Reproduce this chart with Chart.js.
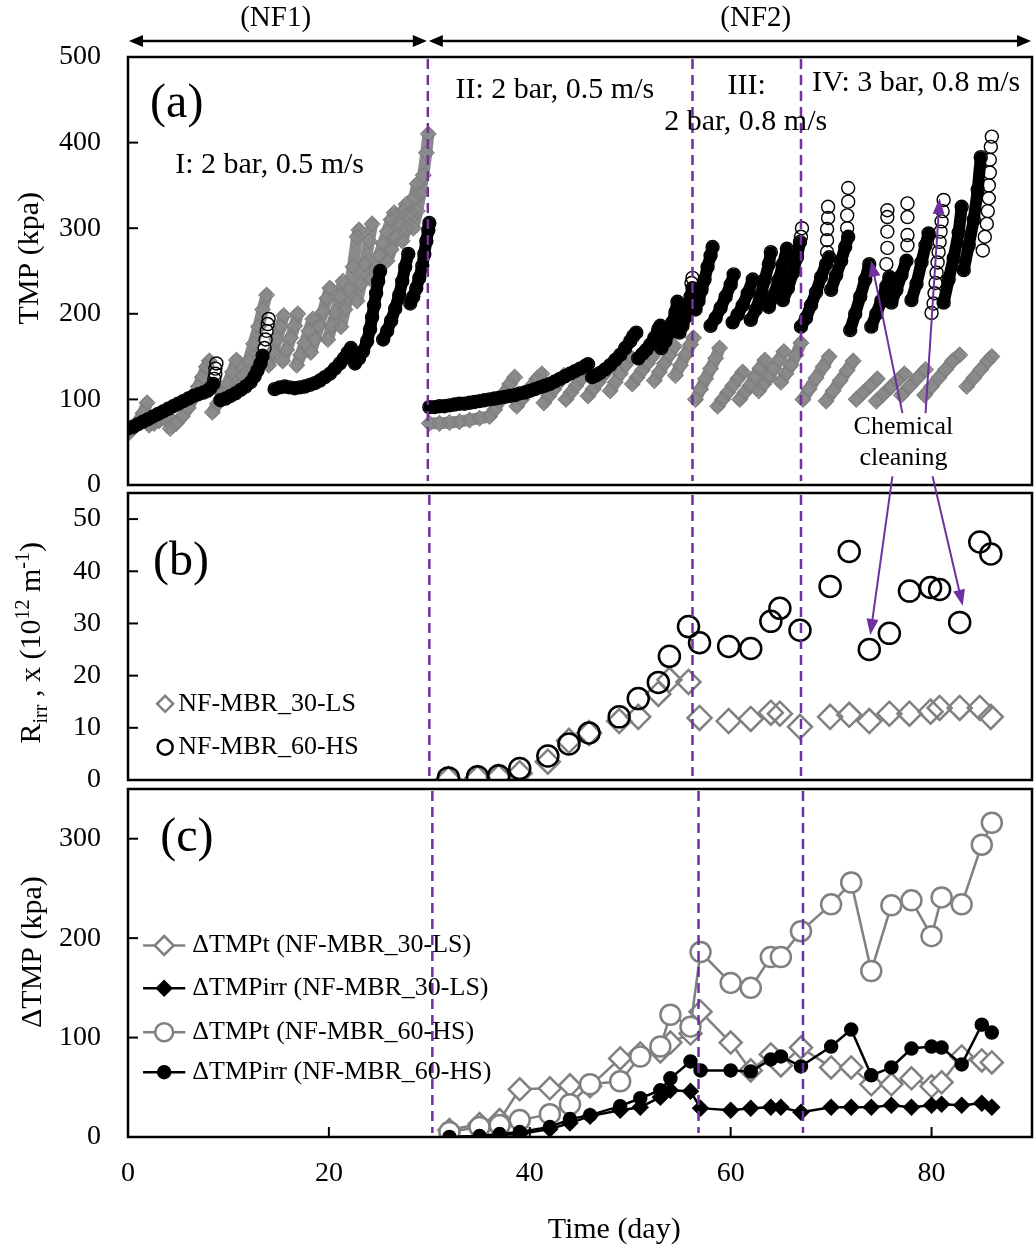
<!DOCTYPE html>
<html>
<head>
<meta charset="utf-8">
<script src="https://cdn.jsdelivr.net/npm/chart.js@4.4.1/dist/chart.umd.min.js"></script>
<style>
  body { margin: 0; background: #fff; }
  .page { position: relative; width: 1036px; height: 1249px; }
  .page canvas { position: absolute; left: 0; top: 0; }
</style>
</head>
<body>
<div class="page">
  <canvas id="panelA" width="1036" height="1249"></canvas>
  <canvas id="panelB" width="1036" height="1249"></canvas>
  <canvas id="panelC" width="1036" height="1249"></canvas>
</div>
<script>
// ---- data: (a) TMP as [day, kPa] ----
// dense runs of the HS membrane (they merge into a solid band)
const tmpHS_I = [[0,66],[0.5,68],[1,71],[1.5,74],[2,77],[2.5,80],[3,83],[3.5,86],[4,89],[4.5,92],[5,95],[5.5,98],[6,101],[6.5,104],[7,106],[7.5,108],[7.9,110],[8.2,113],[8.5,118],
  [9.2,99],[9.7,101],[10.2,104],[10.7,107],[11.2,111],[11.7,115],[12.2,120],[12.6,127],[12.9,134],[13.2,142],[13.4,151],
  [14.6,112],[15.1,114],[15.6,115],[16.1,114],[16.6,113],[17.1,114],[17.6,115],[18.1,117],[18.6,119],[19.1,122],[19.6,126],[20.1,130],[20.6,136],[21.1,142],[21.5,148],[21.9,155],[22.2,160],
  [22.6,142],[23,148],[23.4,156],[23.8,168],[24.1,182],[24.3,196],[24.5,210],[24.7,224],[24.9,238],[25.1,250],
  [25.4,170],[25.8,180],[26.2,192],[26.6,206],[27,222],[27.3,238],[27.6,255],[27.9,270],
  [28.1,212],[28.4,220],[28.7,230],[29,242],[29.3,256],[29.5,270],[29.7,285],[29.9,298],[30,306]];

const tmpHS_II = [[30,91],[30.5,91],[31,92],[31.5,92],[32,93],[32.5,94],[33,95],[33.5,95],[34,96],[34.5,97],[35,98],[35.5,99],[36,100],[36.5,101],[37,102],[37.5,103],[38,104],[38.5,105],[39,107],[39.5,108],[40,110],[40.5,112],[41,114],[41.5,116],[42,118],[42.5,121],[43,124],[43.5,127],[44,130],[44.5,133],[45,136],[45.5,139],[45.8,141],
  [46.2,126],[46.6,128],[47,131],[47.5,135],[48,140],[48.5,146],[49,152],[49.5,160],[50,168],[50.3,174],[50.6,178],
  [50.8,148],[51.2,153],[51.6,158],[52,164],[52.4,172],[52.8,182],[53,186],
  [53.1,160],[53.5,168],[53.9,178],[54.2,190],[54.5,202],[54.7,214],
  [54.9,178],[55.2,186],[55.5,196],[55.8,208],[56,220],[56.2,230]];

const tmpHS_III = [[56.5,205],[56.8,215],[57.1,228],[57.4,240],[57.7,255],[58,268],[58.2,278],
  [58,186],[58.5,195],[59,207],[59.5,220],[60,234],[60.3,246],
  [60.2,190],[60.7,199],[61.2,210],[61.7,224],[62.2,240],
  [62,193],[62.5,205],[63,222],[63.4,240],[63.8,258],[64,272],
  [63.8,208],[64.3,222],[64.8,240],[65.2,258],[65.6,276],
  [65.2,216],[65.7,230],[66.2,248],[66.6,266],[66.9,284]];

const tmpHS_IV = [[67,185],[67.5,195],[68,210],[68.5,225],[69,243],[69.5,258],[69.8,266],
  [70,228],[70.5,245],[71,262],[71.4,278],[71.7,290],
  [71.9,181],[72.4,200],[72.9,220],[73.4,240],[73.8,258],
  [74,185],[74.5,200],[75,215],[75.5,232],[75.8,243],
  [76,213],[76.5,228],[77,245],[77.5,262],
  [78,216],[78.5,235],[79,260],[79.4,280],[79.7,294],
  [81.2,213],[81.7,240],[82.2,265],[82.7,295],[83,325],
  [83.2,251],[83.7,280],[84.2,310],[84.6,345],[84.9,383]];

// sparser stacks of open HS circles at the top of some cycles
const tmpHS_rings = [[8.6,124],[8.7,130],[8.7,136],[8.8,142],
  [13.6,160],[13.7,170],[13.8,180],[13.9,188],[14,194],
  [56.1,236],[56.2,242],
  [67,290],[67.1,300],
  [69.6,272],[69.6,286],[69.6,299],[69.7,312],[69.7,325],
  [71.6,300],[71.6,315],[71.7,331],[71.7,347],
  [75.5,258],[75.6,277],[75.6,296],[75.6,313],[75.6,321],
  [77.6,280],[77.6,292],[77.6,313],[77.6,329],
  [80,201],[80.2,212],[80.3,224],[80.4,236],[80.5,248],[80.6,260],[80.7,272],[80.8,284],[80.9,296],[81,308],[81.1,320],[81.2,333],
  [85.1,274],[85.3,290],[85.5,305],[85.6,320],[85.7,335],[85.7,350],[85.8,365],[85.8,380],[85.9,395],[86,407]];

const tmpLS_I = [[0,60],[0.5,66],[1,74],[1.5,84],[1.9,96],
  [2.1,70],[2.6,72],[3.1,75],[3.6,78],[4,80],
  [4.2,66],[4.8,72],[5.4,80],[6,90],[6.5,102],[7,115],[7.4,126],[7.8,138],[8.1,145],
  [8.4,85],[8.9,95],[9.4,106],[9.9,118],[10.4,132],[10.8,146],
  [11,115],[11.5,128],[12,145],[12.5,165],[13,185],[13.4,205],[13.8,222],
  [14,140],[14.4,155],[14.8,170],[15.2,185],[15.5,198],
  [15.4,145],[15.8,158],[16.2,172],[16.6,186],[16.9,200],
  [16.8,140],[17.2,152],[17.6,166],[18,180],[18.4,194],
  [18.2,155],[18.6,170],[19,186],[19.4,202],[19.8,218],[20.1,230],
  [19.9,170],[20.3,186],[20.7,202],[21.1,220],[21.4,238],
  [21.2,185],[21.6,205],[22,228],[22.4,255],[22.8,290],[23,298],
  [22.8,215],[23.2,235],[23.6,258],[24,285],[24.3,305],
  [24.2,240],[24.6,255],[25,268],[25.4,282],[25.8,296],[26.2,310],[26.5,318],
  [25.8,262],[26.2,275],[26.6,290],[27,305],[27.4,320],[27.7,328],
  [27.3,285],[27.7,300],[28.1,318],[28.5,336],[28.8,352],
  [28.4,300],[28.8,320],[29.1,340],[29.4,362],[29.7,388],[29.9,410]];

const tmpLS_II = [[30,72],[31,72],[32,73],[33,74],[34,76],[35,78],[36,80],[36.5,88],[37,98],[37.5,108],[38,118],[38.5,126],
  [38.7,92],[39.2,100],[39.7,108],[40.2,116],[40.7,124],[41.2,130],
  [41.4,96],[41.9,104],[42.4,112],[42.9,120],[43.4,128],
  [43.6,100],[44.1,108],[44.6,116],[45.1,124],[45.6,132],
  [45.8,104],[46.3,112],[46.8,120],[47.3,128],[47.8,136],
  [48,110],[48.5,120],[49,130],[49.5,140],[50,150],
  [50.2,118],[50.7,126],[51.2,134],[51.7,142],[52.2,150],
  [52.4,122],[52.9,132],[53.4,142],[53.9,152],[54.4,162],
  [54.5,128],[55,140],[55.5,152],[56,164],[56.3,172]];

const tmpLS_III = [[56.5,100],[57,112],[57.5,124],[58,136],[58.5,148],[58.9,160],
  [58.7,92],[59.2,100],[59.7,108],[60.2,116],[60.7,124],[61.2,132],
  [60.9,100],[61.4,108],[61.9,116],[62.4,126],[62.9,136],[63.4,146],
  [62.8,110],[63.3,118],[63.8,126],[64.3,136],[64.8,146],[65.3,156],
  [65,120],[65.5,130],[66,140],[66.5,152],[67,166]];

const tmpLS_IV = [[67.2,100],[67.8,112],[68.5,125],[69.2,138],[69.8,150],
  [69.5,98],[70.2,110],[70.9,122],[71.6,134],[72.2,145],
  [72.5,100],[73.2,108],[73.9,116],[74.6,124],
  [74.5,98],[75.2,106],[75.9,114],[76.6,122],[77.3,130],
  [77,105],[77.8,115],[78.6,125],[79.4,135],
  [79.3,105],[80,115],[80.7,125],[81.4,135],[82.1,145],[82.8,152],
  [83.5,115],[84.2,125],[84.9,135],[85.6,145],[86,150]];

// ---- data: (b) Rirr ----
const dayB = [31.9, 34.8, 36.9, 39, 41.8, 43.9, 45.9, 48.9, 50.8, 52.8, 53.9, 55.8, 56.9, 59.8, 62, 64, 64.9, 66.9, 69.9, 71.8, 73.8, 75.8, 77.8, 79.9, 80.8, 82.8, 84.8, 85.9];
const rirrLS = [0.2, 0.4, 0.6, 1.3, 3.5, 7.5, 9.0, 11.3, 12.1, 16.5, 19.2, 18.8, 11.9, 11.3, 11.7, 12.9, 12.7, 10.2, 12.1, 12.5, 11.3, 12.7, 12.7, 13.1, 13.8, 13.8, 13.8, 12.1];
const rirrHS = [0.4, 0.6, 0.8, 2.2, 4.6, 6.9, 9.0, 12.1, 15.6, 18.7, 23.7, 29.4, 26.3, 25.6, 25.2, 30.4, 32.9, 28.7, 37.1, 43.8, 25.0, 28.1, 36.2, 36.9, 36.5, 30.2, 45.6, 43.3];

// ---- data: (c) delta TMP ----
const dayC = [32, 35, 37, 39, 42, 44, 46, 49, 51, 53, 54, 56, 57, 60, 62, 64, 65, 67, 70, 72, 74, 76, 78, 80, 81, 83, 85, 86];
const dTMPt_LS   = [7, 13, 17, 48, 49, 52, 51, 79, 84, 86, 95, 104, 126, 95, 67, 83, 72, 90, 70, 70, 53, 53, 59, 51, 55, 81, 77, 75];
const dTMPirr_LS = [0, 1, 2, 3, 8, 14, 21, 27, 30, 40, 47, 46, 29, 27, 29, 30, 30, 25, 30, 30, 30, 32, 30, 32, 33, 32, 34, 30];
const dTMPt_HS   = [5, 10, 12, 17, 23, 33, 53, 56, 81, 91, 123, 111, 186, 155, 150, 181, 181, 207, 234, 256, 167, 233, 238, 202, 241, 234, 294, 316];
const dTMPirr_HS = [0, 1, 3, 5, 10, 18, 22, 31, 39, 47, 59, 76, 67, 67, 66, 78, 81, 71, 91, 108, 62, 70, 89, 91, 90, 73, 113, 105];

// ---- ticks ----
const xTicks = [0, 20, 40, 60, 80];
const yTicksA = [0, 100, 200, 300, 400, 500];
const yTicksB = [0, 10, 20, 30, 40, 50];
const yTicksC = [0, 100, 200, 300];

// ---- styling ----
const SERIF = '"Liberation Serif", "Times New Roman", serif';
const PURPLE = '#7030A0';
const GREY = '#808080';
const LEFT = 128;

const pairs = arr => arr.map(([x, y]) => ({ x, y }));
const zip = (xs, ys) => xs.map((x, i) => ({ x, y: ys[i] }));

function yAxis(ticks, max) {
  return {
    min: 0, max,
    afterBuildTicks: s => { s.ticks = ticks.map(v => ({ value: v })); },
    afterFit: s => { s.width = LEFT; },
    ticks: { font: { family: SERIF, size: 28 }, color: '#000', padding: 27 },
    grid: { display: false, drawTicks: false },
    border: { display: false }
  };
}
const hiddenX = { type: 'linear', min: 0, max: 90, display: false };

function font(size) { return size + 'px ' + SERIF; }

function text(ctx, s, x, y, size, align) {
  ctx.font = font(size);
  ctx.textAlign = align || 'left';
  ctx.textBaseline = 'middle';
  ctx.fillStyle = '#000';
  ctx.fillText(s, x, y);
}

// rotated axis title, parts = [text, size, baseline shift]
function vTitle(ctx, cx, cy, parts) {
  ctx.save();
  ctx.translate(cx, cy);
  ctx.rotate(-Math.PI / 2);
  ctx.textBaseline = 'alphabetic';
  ctx.textAlign = 'left';
  ctx.fillStyle = '#000';
  let total = 0;
  parts.forEach(p => { ctx.font = font(p[1]); total += ctx.measureText(p[0]).width; });
  let x = -total / 2;
  parts.forEach(p => {
    ctx.font = font(p[1]);
    ctx.fillText(p[0], x, 10 + p[2]);
    x += ctx.measureText(p[0]).width;
  });
  ctx.restore();
}

function arrowHead(ctx, x1, y1, x2, y2, len, half) {
  const a = Math.atan2(y2 - y1, x2 - x1);
  ctx.beginPath();
  ctx.moveTo(x2, y2);
  ctx.lineTo(x2 - len * Math.cos(a) + half * Math.sin(a), y2 - len * Math.sin(a) - half * Math.cos(a));
  ctx.lineTo(x2 - len * Math.cos(a) - half * Math.sin(a), y2 - len * Math.sin(a) + half * Math.cos(a));
  ctx.closePath();
  ctx.fill();
}

function arrow(ctx, x1, y1, x2, y2) {
  ctx.strokeStyle = PURPLE; ctx.fillStyle = PURPLE; ctx.lineWidth = 2;
  const a = Math.atan2(y2 - y1, x2 - x1);
  ctx.beginPath();
  ctx.moveTo(x1, y1);
  ctx.lineTo(x2 - 12 * Math.cos(a), y2 - 12 * Math.sin(a));
  ctx.stroke();
  arrowHead(ctx, x1, y1, x2, y2, 16, 6);
}

function marker(ctx, style, x, y, r, stroke, fill, lw) {
  ctx.beginPath();
  if (style === 'circle') ctx.arc(x, y, r, 0, Math.PI * 2);
  else { ctx.moveTo(x, y - r); ctx.lineTo(x + r, y); ctx.lineTo(x, y + r); ctx.lineTo(x - r, y); ctx.closePath(); }
  if (fill) { ctx.fillStyle = fill; ctx.fill(); }
  ctx.strokeStyle = stroke; ctx.lineWidth = lw; ctx.stroke();
}

// box, inner ticks and purple stage lines
function frame(chart, yTicks, cuts, xInner) {
  const { ctx, chartArea: a } = chart;
  const xs = chart.scales.x, ys = chart.scales.y;
  ctx.save();
  ctx.strokeStyle = PURPLE; ctx.lineWidth = 2.5; ctx.setLineDash([10, 6]);
  cuts.forEach(d => {
    const x = xs.getPixelForValue(d);
    ctx.beginPath(); ctx.moveTo(x, a.top + 2); ctx.lineTo(x, a.bottom - 4); ctx.stroke();
  });
  ctx.setLineDash([]);
  ctx.strokeStyle = '#000'; ctx.lineWidth = 2.5;
  ctx.strokeRect(a.left, a.top, a.right - a.left, a.bottom - a.top);
  ctx.lineWidth = 2;
  yTicks.slice(1).forEach(v => {
    const y = ys.getPixelForValue(v);
    if (y <= a.top + 1) return;
    ctx.beginPath(); ctx.moveTo(a.left, y); ctx.lineTo(a.left + 10, y); ctx.stroke();
  });
  if (xInner) xInner.slice(1).forEach(d => {
    const x = xs.getPixelForValue(d);
    ctx.beginPath(); ctx.moveTo(x, a.bottom); ctx.lineTo(x, a.bottom - 10); ctx.stroke();
  });
  ctx.restore();
}

function baseOptions(padTop, padBottom, yScale, xScale) {
  return {
    responsive: false,
    animation: false,
    events: [],
    layout: { autoPadding: false, padding: { left: 0, right: 4, top: padTop, bottom: padBottom } },
    plugins: { legend: { display: false }, tooltip: { enabled: false } },
    scales: { x: xScale || hiddenX, y: yScale }
  };
}

// a run of readings is joined; a fall back to a lower TMP starts a new run
const runSegments = {
  borderColor: c => (c.p1.parsed.y < c.p0.parsed.y - 4 ? 'rgba(0,0,0,0)' : undefined)
};

// ---------- panel (a) ----------
new Chart(document.getElementById('panelA'), {
  type: 'scatter',
  data: {
    datasets: [
      {
        label: 'NF-MBR_60-HS rings',
        data: pairs(tmpHS_rings),
        pointStyle: 'circle', pointRadius: 6.5, pointBorderWidth: 1.4,
        pointBorderColor: '#000', pointBackgroundColor: 'rgba(0,0,0,0)'
      },
      {
        label: 'NF-MBR_60-HS',
        data: pairs(tmpHS_I.concat(tmpHS_II, tmpHS_III, tmpHS_IV)),
        showLine: true, borderColor: '#000', borderWidth: 12,
        borderJoinStyle: 'round', borderCapStyle: 'round', segment: runSegments,
        pointStyle: 'circle', pointRadius: 6.5, pointBorderWidth: 1.4,
        pointBorderColor: '#000', pointBackgroundColor: 'rgba(0,0,0,0)'
      },
      {
        label: 'NF-MBR_30-LS',
        data: pairs(tmpLS_I.concat(tmpLS_II, tmpLS_III, tmpLS_IV)),
        showLine: true, borderColor: '#8a8a8a', borderWidth: 12,
        borderJoinStyle: 'round', borderCapStyle: 'round', segment: runSegments,
        pointStyle: 'rectRot', pointRadius: 7.5, pointBorderWidth: 1.5,
        pointBorderColor: GREY, pointBackgroundColor: 'rgba(0,0,0,0)'
      }
    ]
  },
  options: baseOptions(57, 1249 - 485, yAxis(yTicksA, 500)),
  plugins: [{
    id: 'decorA',
    afterDatasetsDraw(chart) {
      const ctx = chart.ctx;
      const X = d => chart.scales.x.getPixelForValue(d), Y = v => chart.scales.y.getPixelForValue(v);
      frame(chart, yTicksA, [29.85, 56.2, 67]);
      ctx.save();
      // NF1 / NF2 spans
      ctx.strokeStyle = '#000'; ctx.fillStyle = '#000'; ctx.lineWidth = 2.5;
      const yh = 41;
      [[0, 29.85], [29.85, 90]].forEach(([d0, d1]) => {
        const x0 = X(d0) + 1, x1 = X(d1) - 1;
        ctx.beginPath(); ctx.moveTo(x0 + 8, yh); ctx.lineTo(x1 - 8, yh); ctx.stroke();
        arrowHead(ctx, x1, yh, x0, yh, 14, 6);
        arrowHead(ctx, x0, yh, x1, yh, 14, 6);
      });
      text(ctx, '(NF1)', X(14.7), 18, 29, 'center');
      text(ctx, '(NF2)', X(62.5), 18, 29, 'center');
      text(ctx, '(a)', X(2.2), Y(445), 48);
      text(ctx, 'I: 2 bar, 0.5 m/s', X(4.7), Y(374), 30);
      text(ctx, 'II: 2 bar, 0.5 m/s', X(32.6), Y(461), 30);
      text(ctx, 'III:', X(61.6), Y(466), 30, 'center');
      text(ctx, '2 bar, 0.8 m/s', X(61.5), Y(424), 30, 'center');
      text(ctx, 'IV: 3 bar, 0.8 m/s', X(68.1), Y(470), 30);
      text(ctx, 'Chemical', X(77.2), Y(67), 26, 'center');
      text(ctx, 'cleaning', X(77.2), Y(31), 26, 'center');
      arrow(ctx, X(77.1), Y(84), X(74.0), Y(262));
      arrow(ctx, X(79.4), Y(84), X(80.8), Y(335));
      vTitle(ctx, 28, Y(265), [['TMP (kpa)', 30, 0]]);
      ctx.restore();
    }
  }]
});

// ---------- panel (b) ----------
new Chart(document.getElementById('panelB'), {
  type: 'scatter',
  data: {
    datasets: [
      {
        label: 'NF-MBR_60-HS', data: zip(dayB, rirrHS),
        pointStyle: 'circle', pointRadius: 10.5, pointBorderWidth: 2.5,
        pointBorderColor: '#000', pointBackgroundColor: 'rgba(0,0,0,0)'
      },
      {
        label: 'NF-MBR_30-LS', data: zip(dayB, rirrLS),
        pointStyle: 'rectRot', pointRadius: 12, pointBorderWidth: 2.5,
        pointBorderColor: GREY, pointBackgroundColor: 'rgba(0,0,0,0)'
      }
    ]
  },
  options: baseOptions(493, 1249 - 780, yAxis(yTicksB, 55)),
  plugins: [{
    id: 'decorB',
    afterDatasetsDraw(chart) {
      const ctx = chart.ctx;
      const X = d => chart.scales.x.getPixelForValue(d), Y = v => chart.scales.y.getPixelForValue(v);
      frame(chart, yTicksB, [30, 56.2, 67]);
      ctx.save();
      text(ctx, '(b)', X(2.5), Y(41.7), 48);
      marker(ctx, 'diamond', X(3.7), Y(14.6), 8, GREY, null, 2.5);
      text(ctx, 'NF-MBR_30-LS', X(5.0), Y(14.6), 26);
      marker(ctx, 'circle', X(3.7), Y(6.3), 7.5, '#000', null, 2.5);
      text(ctx, 'NF-MBR_60-HS', X(5.0), Y(6.3), 26);
      arrow(ctx, X(76.1), Y(58.2), X(73.9), Y(27.8));
      arrow(ctx, X(80.1), Y(58.2), X(83.1), Y(33.4));
      vTitle(ctx, 30, Y(26.3), [['R', 30, 0], ['irr', 20, 7], [' , x (10', 30, 0], ['12', 20, -11], [' m', 30, 0], ['-1', 20, -11], [')', 30, 0]]);
      ctx.restore();
    }
  }]
});

// ---------- panel (c) ----------
const xAxisC = {
  type: 'linear', min: 0, max: 90,
  afterBuildTicks: s => { s.ticks = xTicks.map(v => ({ value: v })); },
  afterFit: s => { s.height = 1249 - 1137; },
  ticks: { font: { family: SERIF, size: 28 }, color: '#000', padding: 20, maxRotation: 0 },
  grid: { display: false, drawTicks: false },
  border: { display: false }
};

const seriesC = [
  { label: 'ΔTMPt (NF-MBR_30-LS)', values: dTMPt_LS, color: GREY, style: 'rectRot', r: 11, lr: 9.5, fill: '#fff' },
  { label: 'ΔTMPirr (NF-MBR_30-LS)', values: dTMPirr_LS, color: '#000', style: 'rectRot', r: 7, lr: 7, fill: '#000' },
  { label: 'ΔTMPt (NF-MBR_60-HS)', values: dTMPt_HS, color: GREY, style: 'circle', r: 10, lr: 9, fill: '#fff' },
  { label: 'ΔTMPirr (NF-MBR_60-HS)', values: dTMPirr_HS, color: '#000', style: 'circle', r: 6, lr: 6, fill: '#000' }
];

new Chart(document.getElementById('panelC'), {
  type: 'scatter',
  data: {
    datasets: seriesC.slice().reverse().map(s => ({
      label: s.label, data: zip(dayC, s.values), showLine: true,
      borderColor: s.color, borderWidth: 2.5,
      pointStyle: s.style, pointRadius: s.r, pointBorderWidth: 2.5,
      pointBorderColor: s.color, pointBackgroundColor: s.fill
    }))
  },
  options: baseOptions(789, 0, yAxis(yTicksC, 350), xAxisC),
  plugins: [{
    id: 'decorC',
    afterDatasetsDraw(chart) {
      const ctx = chart.ctx;
      const X = d => chart.scales.x.getPixelForValue(d), Y = v => chart.scales.y.getPixelForValue(v);
      frame(chart, yTicksC, [30.3, 56.8, 67.2], xTicks);
      ctx.save();
      text(ctx, '(c)', X(3.2), Y(300), 48);
      const rows = [192.6, 149.5, 105.3, 65.2];
      seriesC.forEach((s, i) => {
        const y = Y(rows[i]);
        ctx.strokeStyle = s.color; ctx.lineWidth = 2.5;
        ctx.beginPath(); ctx.moveTo(X(1.5), y); ctx.lineTo(X(5.7), y); ctx.stroke();
        marker(ctx, s.style === 'circle' ? 'circle' : 'diamond', X(3.6), y, s.lr, s.color, s.fill, 2.5);
        text(ctx, s.label, X(6.4), y, 26);
      });
      vTitle(ctx, 31, Y(186), [['ΔTMP (kpa)', 30, 0]]);
      text(ctx, 'Time (day)', X(48.4), 1230, 30, 'center');
      ctx.restore();
    }
  }]
});
</script>
</body>
</html>
